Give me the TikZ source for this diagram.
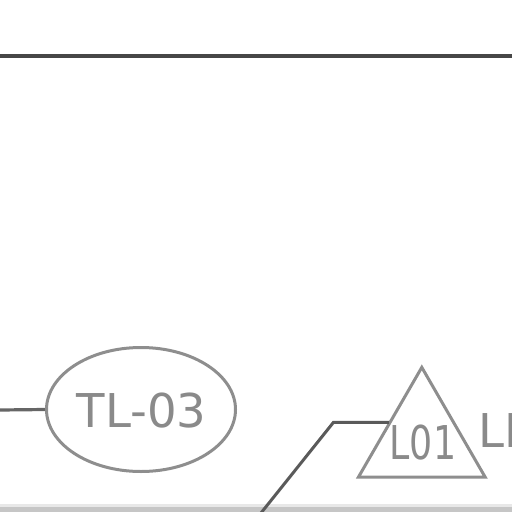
\documentclass[tikz,border=0pt]{standalone}
\usepackage{fontspec}
\setmainfont{DejaVu Sans}
\usetikzlibrary{shapes.geometric}
\definecolor{txtgray}{HTML}{8A8A8A}
\definecolor{shapegray}{HTML}{8E8E8E}
\definecolor{topline}{HTML}{474747}
\definecolor{leftline}{HTML}{666666}
\definecolor{connline}{HTML}{5A5A5A}
\definecolor{bandlight}{HTML}{E8E8E8}
\definecolor{banddark}{HTML}{C6C6C6}
\tikzset{
  bigtext/.style={font=\fontsize{46.6}{50}\selectfont, text=txtgray, inner sep=0pt},
  tagshape/.style={draw=shapegray, line width=3pt, inner sep=0pt},
}
\begin{document}
\begin{tikzpicture}[x=1pt,y=-1pt]
\useasboundingbox (0,0) rectangle (512,512);
\clip (0,0) rectangle (512,512);
% bottom band
\fill[bandlight] (0,504) rectangle (512,507);
\fill[banddark] (0,507) rectangle (512,512);
% top line
\coordinate (tl) at (0,56);
\coordinate (tr) at (512,56);
\draw[topline, line width=3.2pt] (tl) -- (tr);
% ellipse
\node[tagshape, ellipse, minimum width=189pt, minimum height=124pt] (tl03) at (141,409.5) {};
\node[bigtext, anchor=base] (tl03t) at (141.5,427) {TL-03};
\coordinate (leftend) at (0,410);
\draw[leftline, line width=3.2pt] (leftend) -- (tl03.west);
% triangle
\node[tagshape, regular polygon, regular polygon sides=3, minimum size=146.5pt] (tri) at (421.8,440.6) {};
\node[bigtext, anchor=base] (l01) at (423,459) {\scalebox{0.78}[1]{L01}};
\node[bigtext, anchor=base west] (li) at (478.5,447) {LI};
% connector
\coordinate (cbot) at (261,513);
\coordinate (cbend) at (333.5,422.3);
\draw[connline, line width=3pt, line join=miter] (cbot) -- (cbend) -- (cbend -| tri.150);
\end{tikzpicture}
\end{document}
